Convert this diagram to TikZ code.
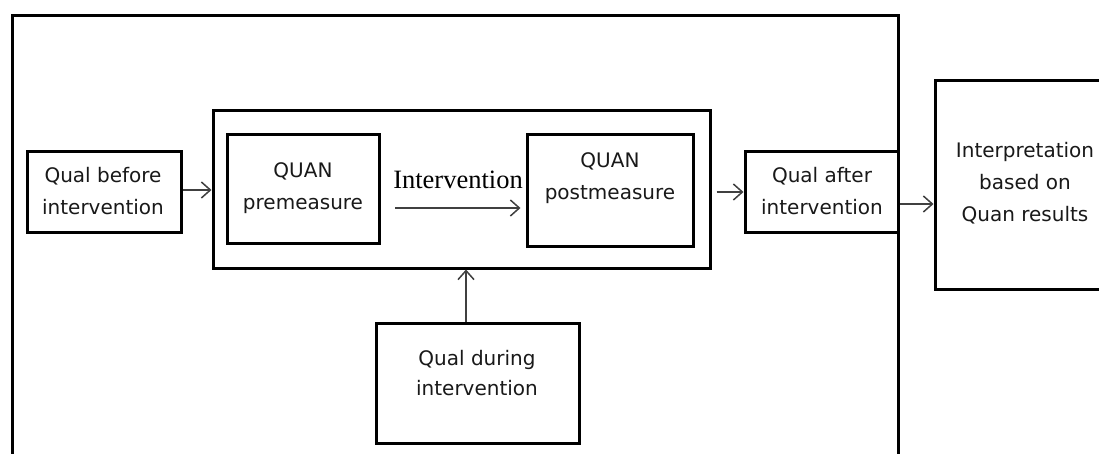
\documentclass[tikz,border=0pt]{standalone}
\usepackage{fontspec}
\setmainfont{DejaVu Sans}
\newfontfamily\ivserif{Liberation Serif}
\usetikzlibrary{arrows.meta}
\begin{document}
\begin{tikzpicture}[x=1pt,y=-1pt,
  box/.style={draw, line width=3pt, inner sep=0pt},
  txt/.style={font=\fontsize{20}{32}\selectfont, align=center, inner sep=0pt, text=black!90},
  arr/.style={draw=black!75, line width=1.5pt, -{Straight Barb[length=9pt,width=16pt]}}]
\useasboundingbox (0,0) rectangle (1099,454);
\fill[white] (0,0) rectangle (1099,454);
\clip (0,0) rectangle (1099,454);
% outer frame, open at the bottom
\draw[line width=3pt] (12,470) -- (12,16) -- (898,16) -- (898,470);
% boxes
\node[box, minimum width=154pt, minimum height=81pt] (qb) at (104,192.5) {};
\node[box, minimum width=497pt, minimum height=157pt] (cont) at (461.5,189.5) {};
\node[box, minimum width=152pt, minimum height=108pt] (pre) at (303,189) {};
\node[box, minimum width=166pt, minimum height=111pt] (post) at (610,190.5) {};
\node[box, minimum width=153pt, minimum height=81pt] (qa) at (821.5,192.5) {};
\node[box, minimum width=203pt, minimum height=120pt] (qd) at (477.5,383) {};
\node[box, minimum width=230pt, minimum height=208pt] (interp) at (1050,185) {};
% texts
\node[txt] (tqb) at (103,191) {Qual before\\intervention};
\node[txt] (tpre) at (303,188) {QUAN\\premeasure};
\node[txt] (tpost) at (610,178) {QUAN\\postmeasure};
\node[txt] (tqa) at (822,191) {Qual after\\intervention};
\node[txt, font=\fontsize{20}{30}\selectfont] (tqd) at (477,373) {Qual during\\intervention};
\node[txt] (tint) at (1025,183) {Interpretation\\based on\\Quan results};
\node[inner sep=0pt, font=\ivserif\fontsize{26.5}{30}\selectfont] (ivlab) at (458,180) {Intervention};
% connectors
\coordinate (ia) at (395,208);
\coordinate (ib) at (520.5,208);
\draw[arr] (qb.east |- 0,190) -- (cont.west |- 0,190);
\draw[arr] (ia) -- (ib);
\draw[arr] ([xshift=5pt]cont.east |- 0,192) -- (qa.west |- 0,192);
\draw[arr] (qa.east |- 0,204) -- (interp.west |- 0,204);
\draw[arr] (qd.north -| 466,0) -- (cont.south -| 466,0);
\end{tikzpicture}
\end{document}
